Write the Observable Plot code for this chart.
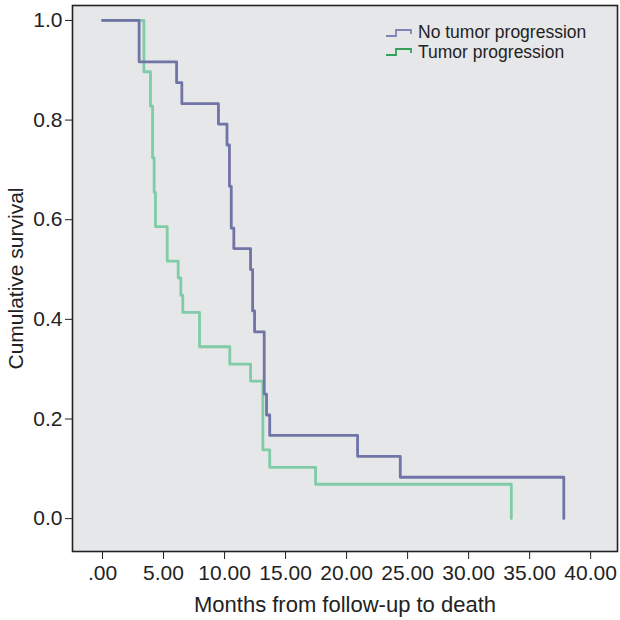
<!DOCTYPE html>
<html>
<head>
<meta charset="utf-8">
<script src="https://cdn.jsdelivr.net/npm/d3@7"></script>
<script src="https://cdn.jsdelivr.net/npm/@observablehq/plot@0.6"></script>
<style>
  body { margin: 0; background: #fff; }
  #wrap { position: relative; width: 620px; height: 620px; font-family: "Liberation Sans", Arial, sans-serif; }
  #legend { position: absolute; left: 384px; top: 23px; font-size: 17.5px; color: #222; }
  #legend .row { display: flex; align-items: center; white-space: nowrap; height: 19.5px; line-height: 19.5px; }
  #legend svg { margin-right: 2px; flex: none; }
</style>
</head>
<body>
<div id="wrap"></div>
<script>
// Series names
const seriesNames = ["No tumor progression", "Tumor progression"];
const seriesColors = ["#7074a7", "#7fcca6"];
const legendIconColors = ["#7f84b5", "#35a05a"];

// No tumor progression: times (months) and cumulative survival
const noProgTime = [0, 3.0, 6.07, 6.5, 9.5, 10.2, 10.4, 10.55, 10.76, 12.13, 12.3, 12.46, 13.25, 13.44, 13.7, 20.9, 24.4, 37.8];
const noProgSurv = [1, 0.917, 0.875, 0.833, 0.792, 0.75, 0.667, 0.583, 0.542, 0.5, 0.417, 0.375, 0.25, 0.208, 0.167, 0.125, 0.083, 0];

// Tumor progression: times (months) and cumulative survival
const progTime = [0, 3.39, 3.93, 4.1, 4.23, 4.34, 5.3, 6.2, 6.42, 6.58, 7.95, 10.43, 12.13, 13.14, 13.7, 17.46, 33.5];
const progSurv = [1, 0.897, 0.828, 0.724, 0.655, 0.586, 0.517, 0.483, 0.448, 0.414, 0.345, 0.310, 0.276, 0.138, 0.103, 0.069, 0];

// Axis ticks
const xTicks = [0, 5, 10, 15, 20, 25, 30, 35, 40];
const xTickLabels = [".00", "5.00", "10.00", "15.00", "20.00", "25.00", "30.00", "35.00", "40.00"];
const yTicks = [0, 0.2, 0.4, 0.6, 0.8, 1.0];
const yTickLabels = ["0.0", "0.2", "0.4", "0.6", "0.8", "1.0"];
const xTitle = "Months from follow-up to death";
const yTitle = "Cumulative survival";

const noProg = noProgTime.map((t, i) => ({t, s: noProgSurv[i]}));
const prog = progTime.map((t, i) => ({t, s: progSurv[i]}));

const chart = Plot.plot({
  width: 620,
  height: 620,
  marginLeft: 72,
  marginRight: 3,
  marginTop: 5,
  marginBottom: 69,
  style: { fontFamily: '"Liberation Sans", Arial, sans-serif', fontSize: "21px", background: "#fff", color: "#222", overflow: "visible" },
  x: { domain: [-2.46, 42.2] },
  y: { domain: [-0.066, 1.03] },
  marks: [
    Plot.frame({ fill: "#e6e7e9" }),
    Plot.line(prog, { x: "t", y: "s", curve: "step-after", stroke: seriesColors[1], strokeWidth: 2.8 }),
    Plot.line(noProg, { x: "t", y: "s", curve: "step-after", stroke: seriesColors[0], strokeWidth: 2.8 }),
    Plot.frame({ stroke: "#222", strokeWidth: 1.6 }),
    Plot.axisX({ ticks: xTicks, tickFormat: (d) => xTickLabels[xTicks.indexOf(d)], tickSize: 8, tickPadding: 6, label: null, fontSize: 21, stroke: "#222" }),
    Plot.axisY({ ticks: yTicks, tickFormat: (d) => yTickLabels[yTicks.findIndex(v => Math.abs(v - d) < 1e-9)], tickSize: 7, tickPadding: 3, label: null, fontSize: 21, stroke: "#222" }),
    Plot.text([xTitle], { frameAnchor: "bottom", textAnchor: "middle", lineAnchor: "middle", dy: 53, text: d => d, fontSize: 22, fill: "#222" }),
    Plot.text([yTitle], { frameAnchor: "left", textAnchor: "middle", lineAnchor: "middle", dx: -56, rotate: -90, text: d => d, fontSize: 21, fill: "#222" })
  ]
});

const wrap = document.getElementById("wrap");
wrap.appendChild(chart);

const legend = document.createElement("div");
legend.id = "legend";
seriesNames.forEach((name, i) => {
  const row = document.createElement("div");
  row.className = "row";
  row.innerHTML = `<svg width="32" height="12" viewBox="0 0 32 12"><path d="M2 9 H12 V3 H27 V7" fill="none" stroke="${legendIconColors[i]}" stroke-width="1.8"/></svg><span>${name}</span>`;
  legend.appendChild(row);
});
wrap.appendChild(legend);
</script>
</body>
</html>
